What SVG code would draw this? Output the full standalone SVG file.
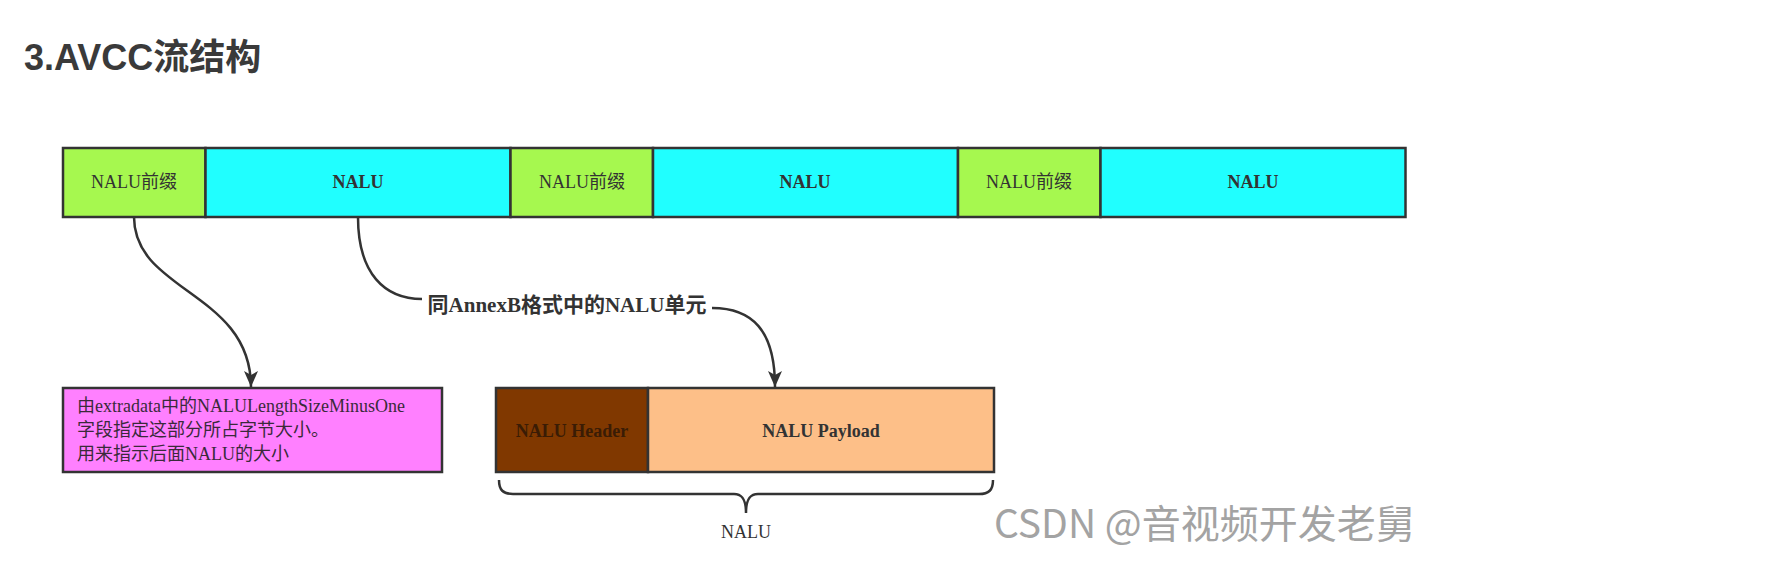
<svg xmlns="http://www.w3.org/2000/svg" width="1788" height="578" viewBox="0 0 1788 578">
<style>
.box{stroke:#333;stroke-width:2.5}
.pre{fill:#a6f84f}
.nalu{fill:#20ffff}
.t{font-family:"Liberation Serif","Noto Sans CJK SC",serif;font-size:18px;fill:#333;text-anchor:middle;dominant-baseline:central}
.b{font-weight:bold}
.edge{fill:none;stroke:#333;stroke-width:2.5}
</style>
<defs>
<marker id="arr" markerUnits="userSpaceOnUse" markerWidth="16" markerHeight="14" viewBox="0 0 16 14" refX="16" refY="7" orient="auto">
<path d="M0,0 L16,7 L0,14 L4,7 Z" fill="#333"/>
</marker>
</defs>
<rect width="1788" height="578" fill="#fff"/>
<text x="24" y="70" font-family="'Liberation Sans','Noto Sans CJK SC',sans-serif" font-size="36" font-weight="bold" fill="#3a3a3a">3.AVCC流结构</text>

<g id="bar">
<g id="pre1"><rect class="box pre" x="63" y="148" width="142.5" height="69"/><text class="t" x="134" y="182">NALU前缀</text></g>
<g id="nalu1"><rect class="box nalu" x="205.5" y="148" width="305" height="69"/><text class="t b" x="358" y="182">NALU</text></g>
<g id="pre2"><rect class="box pre" x="510.5" y="148" width="142.5" height="69"/><text class="t" x="582" y="182">NALU前缀</text></g>
<g id="nalu2"><rect class="box nalu" x="653" y="148" width="305" height="69"/><text class="t b" x="805" y="182">NALU</text></g>
<g id="pre3"><rect class="box pre" x="958" y="148" width="142.5" height="69"/><text class="t" x="1029" y="182">NALU前缀</text></g>
<g id="nalu3"><rect class="box nalu" x="1100.5" y="148" width="305" height="69"/><text class="t b" x="1253" y="182">NALU</text></g>
</g>

<g id="prefix-desc">
<rect class="box" x="63" y="388" width="379" height="84" fill="#ff80ff"/>
<text font-family="'Liberation Serif','Noto Sans CJK SC',serif" font-size="18" fill="#3a2a3a">
<tspan x="77" y="412">由extradata中的NALULengthSizeMinusOne</tspan>
<tspan x="77" y="436">字段指定这部分所占字节大小。</tspan>
<tspan x="77" y="460">用来指示后面NALU的大小</tspan>
</text>
</g>

<g id="nalu-detail">
<rect class="box" x="496" y="388" width="152" height="84" fill="#803800"/>
<text class="t b" x="572" y="431" style="fill:#3a1c05">NALU Header</text>
<rect class="box" x="648" y="388" width="346" height="84" fill="#fdbf88"/>
<text class="t b" x="821" y="431">NALU Payload</text>
</g>

<g id="brace">
<path class="edge" d="M499,480 C499,490 503,494 513,494 L734,494 C742,494 746,499 746,513 C746,499 750,494 758,494 L979,494 C989,494 993,490 993,480"/>
<text class="t" x="746" y="532">NALU</text>
</g>

<g id="connectors">
<path class="edge" d="M134,217 C134,292 251,292 251,387" marker-end="url(#arr)"/>
<path class="edge" d="M358,217 C358,274 385,299 422,299"/>
<path class="edge" d="M712,308 C752,308 775,330 775,387" marker-end="url(#arr)"/>
<text class="t b" x="567" y="305" style="font-size:21px">同AnnexB格式中的NALU单元</text>
</g>

<text x="994" y="538" font-family="'Noto Sans CJK SC','Liberation Sans',sans-serif" font-size="39" fill="#a3a3a3">CSDN @音视频开发老舅</text>
</svg>
